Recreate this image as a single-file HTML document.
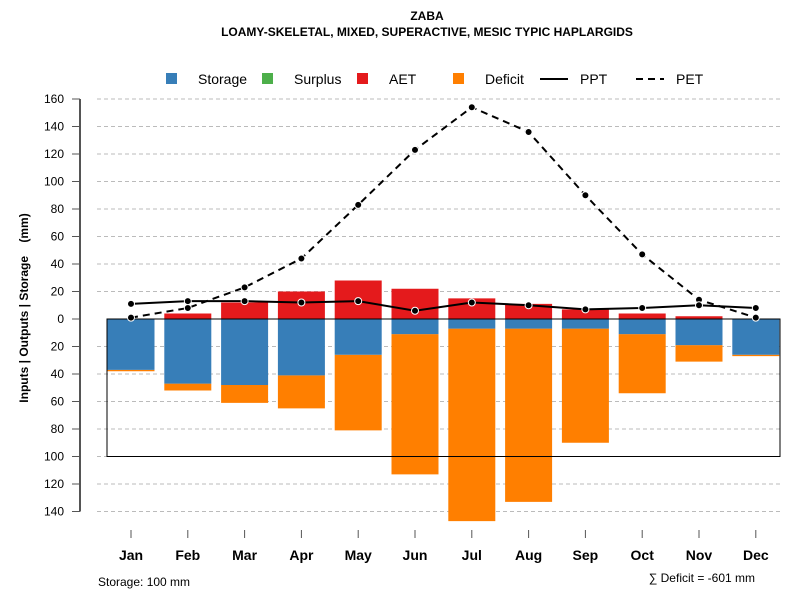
<!DOCTYPE html>
<html><head><meta charset="utf-8"><style>body{margin:0;background:#fff}svg{font-family:"Liberation Sans",sans-serif}</style></head>
<body>
<svg id="chart" width="800" height="600" xmlns="http://www.w3.org/2000/svg">
<text x="427" y="20" text-anchor="middle" font-size="12" font-weight="bold">ZABA</text>
<text x="427" y="36" text-anchor="middle" font-size="12" font-weight="bold">LOAMY-SKELETAL, MIXED, SUPERACTIVE, MESIC TYPIC HAPLARGIDS</text>
<g id="legend" font-size="14">
<rect x="166" y="73" width="11" height="11" fill="#377EB8"/><text x="198" y="84">Storage</text>
<rect x="262" y="73" width="11" height="11" fill="#4DAF4A"/><text x="294" y="84">Surplus</text>
<rect x="357" y="73" width="11" height="11" fill="#E41A1C"/><text x="389" y="84">AET</text>
<rect x="453" y="73" width="11" height="11" fill="#FF7F00"/><text x="485" y="84">Deficit</text>
<line x1="540" y1="79" x2="568" y2="79" stroke="#000" stroke-width="2"/><text x="580" y="84">PPT</text>
<line x1="636" y1="79" x2="664" y2="79" stroke="#000" stroke-width="2" stroke-dasharray="7,5"/><text x="676" y="84">PET</text>
</g>
<g id="grid"></g><g id="bars"></g><g id="lines"></g><g id="axes"></g>
<text xml:space="preserve" style="white-space:pre" transform="translate(28,308) rotate(-90)" text-anchor="middle" font-size="12" font-weight="bold">Inputs | Outputs | Storage    (mm)</text>
<text x="98" y="586" font-size="12">Storage: 100 mm</text>
<text x="755" y="582" text-anchor="end" font-size="12">∑ Deficit = -601 mm</text>
</svg>
<script>
const months=["Jan","Feb","Mar","Apr","May","Jun","Jul","Aug","Sep","Oct","Nov","Dec"];
const storage=[37,47,48,41,26,11,7,7,7,11,19,26];
const deficitTotal=[38,52,61,65,81,113,147,133,90,54,31,27];
const aet=[0,4,12,20,28,22,15,11,7,4,2,0];
const ppt=[11,13,13,12,13,6,12,10,7,8,10,8];
const pet=[1,8,23,44,83,123,154,136,90,47,14,1];
const yTicks=[160,140,120,100,80,60,40,20,0,-20,-40,-60,-80,-100,-120,-140];
const storageCap=100;
const NS="http://www.w3.org/2000/svg";
const y=v=>319-v*1.375;
const x=i=>131+i*56.8;
const bw=47;
function mk(tag,attrs,parent,text){const e=document.createElementNS(NS,tag);for(const k in attrs)e.setAttribute(k,attrs[k]);if(text!=null)e.textContent=text;document.getElementById(parent).appendChild(e);return e;}
yTicks.forEach(t=>{
 if(t!==0){const g=mk('line',{x1:97,x2:780,y1:y(t),y2:y(t),stroke:'#bbb','stroke-dasharray':'4,3'},'grid');
 
 }
 const tk=mk('line',{x1:72,x2:80,y1:y(t),y2:y(t),stroke:'#555'},'axes');
 
 
 const lb=mk('text',{x:64,y:y(t)+4,'text-anchor':'end','font-size':12},'axes',Math.abs(t));
 
 
});
const ax=mk('line',{x1:80,x2:80,y1:y(160),y2:y(-140),stroke:'#555','stroke-width':2},'axes');


months.forEach((m,i)=>{
 const d=mk('rect',{x:x(i)-bw/2,y:y(-storage[i]),width:bw,height:y(-deficitTotal[i])-y(-storage[i]),fill:'#FF7F00'},'bars');
 
 
 const s=mk('rect',{x:x(i)-bw/2,y:y(0),width:bw,height:y(-storage[i])-y(0),fill:'#377EB8'},'bars');
 
 
 const a=mk('rect',{x:x(i)-bw/2,y:y(aet[i]),width:bw,height:y(0)-y(aet[i]),fill:'#E41A1C'},'bars');
 
 
 const tk=mk('line',{x1:x(i),x2:x(i),y1:530,y2:538,stroke:'#555'},'axes');
 
 
 const lb=mk('text',{x:x(i),y:560,'text-anchor':'middle','font-size':14,'font-weight':'bold'},'axes',m);
 
 
});
const box=mk('rect',{x:107,y:y(0),width:673,height:y(-storageCap)-y(0),fill:'none',stroke:'#000'},'lines');


[[pet,'7,5','pet-line'],[ppt,null,'ppt-line']].forEach(([arr,dash,name])=>{
 const p=mk('polyline',{points:arr.map((v,i)=>x(i)+','+y(v)).join(' '),fill:'none',stroke:'#000','stroke-width':2},'lines');
 if(dash)p.setAttribute('stroke-dasharray',dash);
 
 
 arr.forEach((v,i)=>{const c=mk('circle',{cx:x(i),cy:y(v),r:3.5,fill:'#000',stroke:'#fff','stroke-width':1},'lines');
 
 });
});
</script>
</body></html>
